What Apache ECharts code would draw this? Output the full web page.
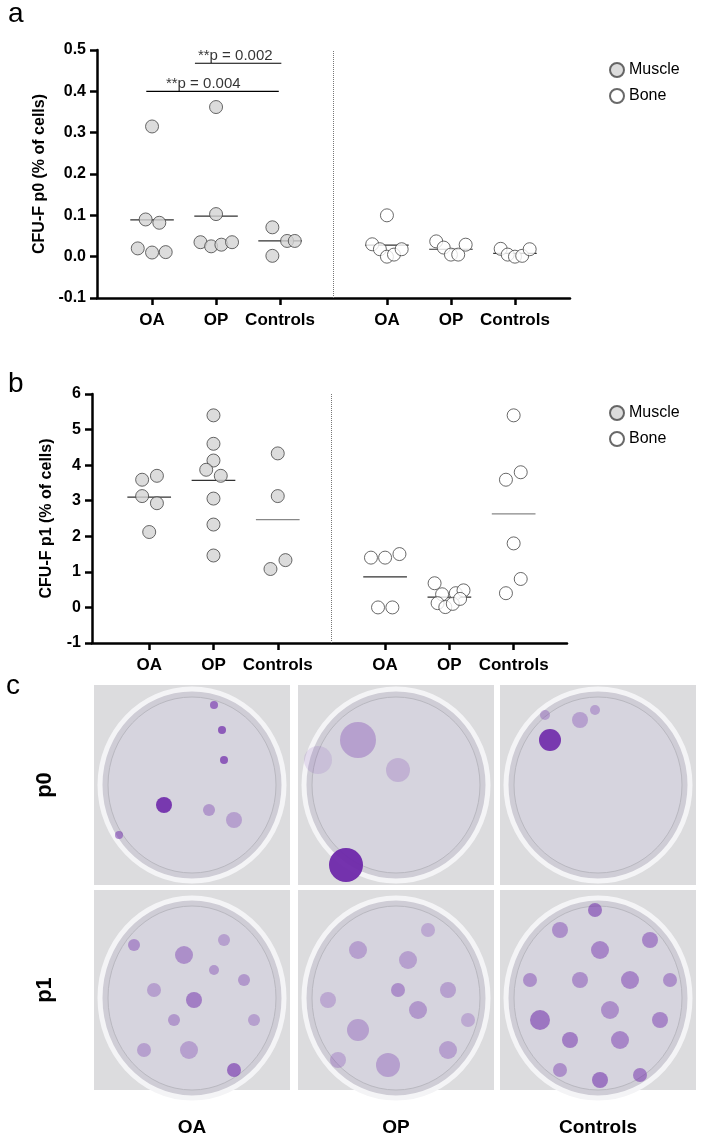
<!DOCTYPE html>
<html><head><meta charset="utf-8">
<script src="https://cdn.jsdelivr.net/npm/echarts@6/dist/echarts.min.js"></script>
<style>html,body{margin:0;padding:0;background:#fff}#c{width:709px;height:1144px}</style>
</head><body><div id="c"></div>
<script>
// ---- data ----
var groupLabels = ['OA','OP','Controls','OA','OP','Controls'];
var groupPos = [0,1,2,3.67,4.67,5.67];
// [groupIndex, jitter(1/3 category units), value]
var p0Muscle = [[0,-0.3,0.09],[0,0.34,0.082],[0,-0.67,0.02],[0,0,0.01],[0,0.64,0.011],[0,0,0.315],
  [1,0,0.362],[1,0,0.103],[1,-0.73,0.035],[1,-0.23,0.025],[1,0.25,0.029],[1,0.75,0.035],
  [2,-0.36,0.071],[2,-0.36,0.002],[2,0.33,0.038],[2,0.69,0.038]];
var p0Bone = [[3,0,0.1],[3,-0.69,0.03],[3,-0.33,0.018],[3,0,0],[3,0.33,0.005],[3,0.69,0.018],
  [4,-0.69,0.037],[4,-0.34,0.022],[4,0,0.005],[4,0.34,0.005],[4,0.69,0.029],
  [5,-0.67,0.019],[5,-0.34,0.005],[5,0,0],[5,0.34,0.002],[5,0.69,0.018]];
var p0Means = [0.089,0.098,0.038,0.028,0.018,0.008];
var p1Muscle = [[0,-0.33,3.59],[0,0.36,3.7],[0,-0.33,3.13],[0,0.36,2.93],[0,0,2.12],
  [1,0,5.4],[1,0,4.6],[1,0,4.13],[1,-0.34,3.87],[1,0.34,3.7],[1,0,3.06],[1,0,2.33],[1,0,1.46],
  [2,0,4.33],[2,0,3.13],[2,-0.34,1.08],[2,0.36,1.33]];
var p1Bone = [[3,-0.66,1.4],[3,0,1.4],[3,0.67,1.5],[3,-0.33,0],[3,0.34,0],
  [4,-0.69,0.68],[4,-0.34,0.37],[4,0.3,0.4],[4,0.66,0.48],[4,-0.55,0.12],[4,-0.19,0.01],[4,0.16,0.1],[4,0.5,0.24],
  [5,0,5.4],[5,-0.36,3.59],[5,0.33,3.8],[5,0,1.8],[5,0.33,0.8],[5,-0.36,0.4]];
var p1Means = [3.1,3.57,2.47,0.86,0.29,2.63];
var p0Ticks = {min:-0.1,max:0.5,interval:0.1};
var p1Ticks = {min:-1,max:6,interval:1};
var sig = [{from:-0.09,to:1.98,y:0.4,text:'**p = 0.004',cx:0.8},{from:0.67,to:2.02,y:0.468,text:'**p = 0.002',cx:1.3}];
var photoCols = ['OA','OP','Controls'];
var photoRows = ['p0','p1'];

var F = 'Liberation Sans, Arial, sans-serif';
function pts(arr){return arr.map(function(d){return [groupPos[d[0]]+d[1]/3,d[2]];});}
function meanLine(means,idx,hw){var o=[];idx.forEach(function(i){var m=means[i];o.push([groupPos[i]-hw,m]);o.push([groupPos[i]+hw,m]);o.push(['-','-']);});return o;}
function xAx(gi,min,max){return {type:'value',gridIndex:gi,min:min,max:max,splitLine:{show:false},
  axisLine:{onZero:false,lineStyle:{color:'#000',width:2.5}},
  axisTick:{customValues:groupPos,length:7,lineStyle:{color:'#000',width:2.5}},
  axisLabel:{customValues:groupPos,formatter:function(v){var i=groupPos.indexOf(v);return i>=0?groupLabels[i]:'';},fontFamily:F,fontWeight:'bold',fontSize:17,color:'#000',margin:14}};}
function yAx(gi,t,name,fmt,gap){return {type:'value',gridIndex:gi,min:t.min,max:t.max,interval:t.interval,splitLine:{show:false},
  axisLine:{show:true,onZero:false,lineStyle:{color:'#000',width:2.5}},axisTick:{show:true,length:7,lineStyle:{color:'#000',width:2.5}},
  axisLabel:{formatter:fmt,fontFamily:F,fontWeight:'bold',fontSize:16,color:'#000',margin:11},
  name:name,nameLocation:'middle',nameRotate:90,nameGap:gap,nameTextStyle:{fontFamily:F,fontWeight:'bold',fontSize:16,color:'#000'}};}
function sc(name,gi,data,fill){return {type:'scatter',name:name,xAxisIndex:gi,yAxisIndex:gi,data:pts(data),symbolSize:13,
  itemStyle:{color:fill,borderColor:'#444',borderWidth:1},z:3};}
function divider(gi,t){return {type:'line',xAxisIndex:gi,yAxisIndex:gi,data:[],markLine:{silent:true,symbol:'none',label:{show:false},
  lineStyle:{type:'dotted',color:'#777',width:1},data:[[{coord:[2.83,t.min]},{coord:[2.83,t.max]}]]}};}
function ml(gi,data,color){return {type:'line',xAxisIndex:gi,yAxisIndex:gi,data:data,symbol:'none',lineStyle:{color:color,width:1.2},connectNulls:false,z:2};}

var series = [
  sc('Muscle',0,p0Muscle,'#d3d3d3'), sc('Bone',0,p0Bone,'#fff'),
  ml(0,meanLine(p0Means,[0,1,2,3,4,5],0.34),'#333'),
  divider(0,p0Ticks),
  sc('Muscle',1,p1Muscle,'#d3d3d3'), sc('Bone',1,p1Bone,'#fff'),
  ml(1,meanLine(p1Means,[0,1,3,4],0.34),'#333'),
  ml(1,meanLine(p1Means,[2,5],0.34),'#888'),
  divider(1,p1Ticks)
];
sig.forEach(function(s){
  series.push({type:'line',xAxisIndex:0,yAxisIndex:0,data:[[s.from,s.y],[s.to,s.y]],symbol:'none',lineStyle:{color:'#000',width:1.2}});
  series.push({type:'scatter',xAxisIndex:0,yAxisIndex:0,data:[[s.cx,s.y]],symbolSize:0,
    label:{show:true,position:'top',distance:0,formatter:s.text,fontFamily:F,fontSize:15,color:'#000'}});
});

var graphic = [
  {type:'text',left:8,top:0,style:{text:'a',font:'28px '+F,fill:'#000'}},
  {type:'text',left:8,top:370,style:{text:'b',font:'28px '+F,fill:'#000'}},
  {type:'text',left:6,top:672,style:{text:'c',font:'28px '+F,fill:'#000'}}
];
var colX=[94,298,500], rowY=[685,890], W=196, H=200;
var spots=[
 [[70,120,8,0.9],[128,45,4,0.7],[130,75,4,0.7],[115,125,6,0.35],[140,135,8,0.3],[25,150,4,0.5],[120,20,4,0.6]],
 [[60,55,18,0.3],[100,85,12,0.2],[48,180,17,0.95],[20,75,14,0.12]],
 [[50,55,11,0.9],[80,35,8,0.3],[45,30,5,0.3],[95,25,5,0.3]],
 [[40,55,6,0.4],[90,65,9,0.4],[100,110,8,0.5],[60,100,7,0.3],[130,50,6,0.3],[150,90,6,0.35],[140,180,7,0.6],[50,160,7,0.3],[95,160,9,0.3],[160,130,6,0.3],[80,130,6,0.35],[120,80,5,0.35]],
 [[60,60,9,0.3],[110,70,9,0.3],[60,140,11,0.3],[120,120,9,0.35],[90,175,12,0.3],[150,100,8,0.3],[150,160,9,0.3],[30,110,8,0.25],[100,100,7,0.4],[130,40,7,0.25],[40,170,8,0.25],[170,130,7,0.25]],
 [[40,130,10,0.55],[70,150,8,0.5],[100,60,9,0.45],[130,90,9,0.45],[150,50,8,0.45],[120,150,9,0.45],[80,90,8,0.4],[160,130,8,0.45],[100,190,8,0.55],[60,40,8,0.4],[140,185,7,0.5],[110,120,9,0.4],[30,90,7,0.4],[170,90,7,0.4],[60,180,7,0.4],[95,20,7,0.55]]
];
for(var r=0;r<2;r++)for(var c=0;c<3;c++){
  var x0=colX[c],y0=rowY[r],k=r*3+c;
  var ch=[{type:'rect',shape:{x:0,y:0,width:W,height:H},style:{fill:'#dcdcde'}},
    {type:'ellipse',shape:{cx:W/2,cy:H/2+(r?8:0),rx:W/2-6,ry:H/2-4+(r?4:0)},style:{fill:'#cfcdd6',stroke:'#f4f4f6',lineWidth:5}},
    {type:'ellipse',shape:{cx:W/2,cy:H/2+(r?8:0),rx:W/2-14,ry:H/2-12+(r?4:0)},style:{fill:'#d6d4de',stroke:'#b9b8c0',lineWidth:1}}];
  spots[k].forEach(function(s){ch.push({type:'circle',shape:{cx:s[0],cy:s[1],r:s[2]},style:{fill:'rgba(110,40,170,'+s[3]+')'}});});
  graphic.push({type:'group',x:x0,y:y0,children:ch});
}
photoCols.forEach(function(t,i){graphic.push({type:'text',x:colX[i]+W/2,y:1128,style:{text:t,font:'bold 19px '+F,fill:'#000',align:'center',verticalAlign:'middle'}});});
photoRows.forEach(function(t,i){graphic.push({type:'text',x:45,y:rowY[i]+H/2,rotation:Math.PI/2,style:{text:t,font:'bold 22px '+F,fill:'#000',align:'center',verticalAlign:'middle'}});});

var chart = echarts.init(document.getElementById('c'));
chart.setOption({
  animation:false,backgroundColor:'#fff',
  grid:[{left:97,top:50,width:473,height:248},{left:92,top:394,width:475,height:249}],
  xAxis:[xAx(0,-0.86,6.53),xAx(1,-0.89,6.5)],
  yAxis:[yAx(0,p0Ticks,'CFU-F p0 (% of cells)',function(v){return v.toFixed(1);},48),yAx(1,p1Ticks,'CFU-F p1 (% of cells)',null,37)],
  legend:[
    {data:['Muscle','Bone'],orient:'vertical',left:604,top:57,itemGap:10,itemWidth:14,itemHeight:14,icon:'circle',textStyle:{fontFamily:F,fontSize:16,color:'#000'}},
    {data:['Muscle','Bone'],orient:'vertical',left:604,top:400,itemGap:10,itemWidth:14,itemHeight:14,icon:'circle',textStyle:{fontFamily:F,fontSize:16,color:'#000'}}
  ],
  series:series,graphic:graphic
});
</script></body></html>
